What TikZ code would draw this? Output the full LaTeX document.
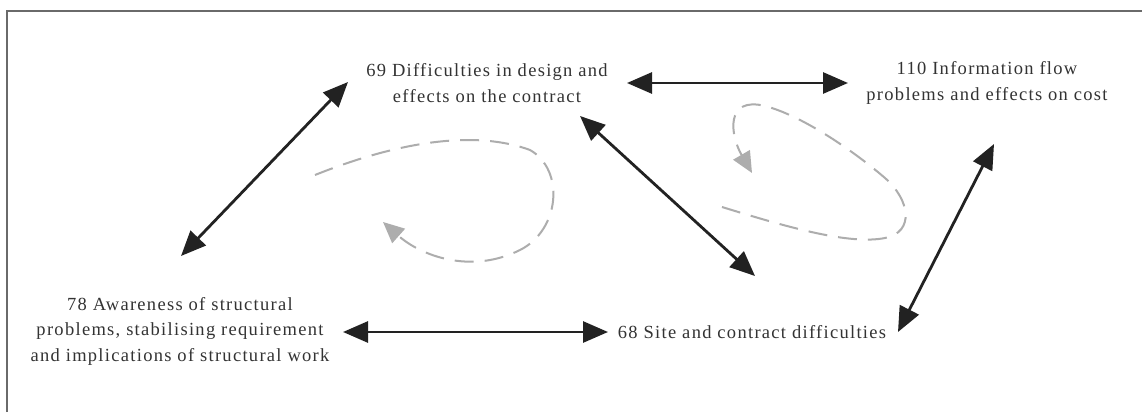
\documentclass[tikz,border=0pt]{standalone}
\usepackage{fontspec}
\setmainfont{Liberation Serif}[LetterSpace=7]
\usetikzlibrary{arrows.meta}
\definecolor{inkdark}{HTML}{222222}
\definecolor{loopgray}{HTML}{ADADAD}
\definecolor{textgray}{HTML}{333333}
\definecolor{framegray}{HTML}{6A6A6A}
\begin{document}
\begin{tikzpicture}[x=1pt,y=-1pt,
  label/.style={inner sep=0pt, align=center, text=textgray,
    font=\fontsize{18.5}{25.5}\selectfont},
  link/.style={draw=inkdark, line width=2.8pt,
    {Triangle[length=25pt,width=21pt]}-{Triangle[length=25pt,width=21pt]}},
  cycle/.style={draw=loopgray, line width=2pt, dash pattern=on 19pt off 11pt,
    -{Triangle[length=21pt,width=19pt]}}]
  \useasboundingbox (0,0) rectangle (1142,412);
  \fill[white] (0,0) rectangle (1142,412);
  % outer frame (top and left edges)
  \draw[framegray, line width=2pt] (7,412) -- (7,11) -- (1142,11);

  % factors
  \node[label] (n69)  at (487,83)  {69 Difficulties in design and\\effects on the contract};
  \node[label] (n110) at (987,83)  {110 Information flow\\problems and effects on cost};
  \node[label] (n78)  at (180,331) {78 Awareness of structural\\problems, stabilising requirement\\and implications of structural work};
  \node[label] (n68)  at (752,332) {68 Site and contract difficulties};

  % two-way links
  \draw[link] ([shift={(140,0)}]n69.center)   -- ([shift={(-139,0)}]n110.center);
  \draw[link] ([shift={(-139,-1)}]n69.center) -- ([shift={(1,-75)}]n78.center);
  \draw[link] ([shift={(93,33)}]n69.center)   -- ([shift={(3,-56)}]n68.center);
  \draw[link] ([shift={(7,61)}]n110.center)   -- ([shift={(146,0)}]n68.center);
  \draw[link] ([shift={(163,1)}]n78.center)   -- ([shift={(-144,0)}]n68.center);

  % feedback loops
  \draw[cycle] (315,175) .. controls (390,145) and (470,128) .. (530,150)
               .. controls (565,170) and (560,230) .. (520,250)
               .. controls (470,275) and (420,255) .. (383,222);
  \draw[cycle] (722,207) .. controls (790,228) and (850,245) .. (885,238)
               .. controls (915,232) and (910,200) .. (885,178)
               .. controls (850,148) and (800,115) .. (765,106)
               .. controls (725,96) and (730,135) .. (752,173);
\end{tikzpicture}
\end{document}
